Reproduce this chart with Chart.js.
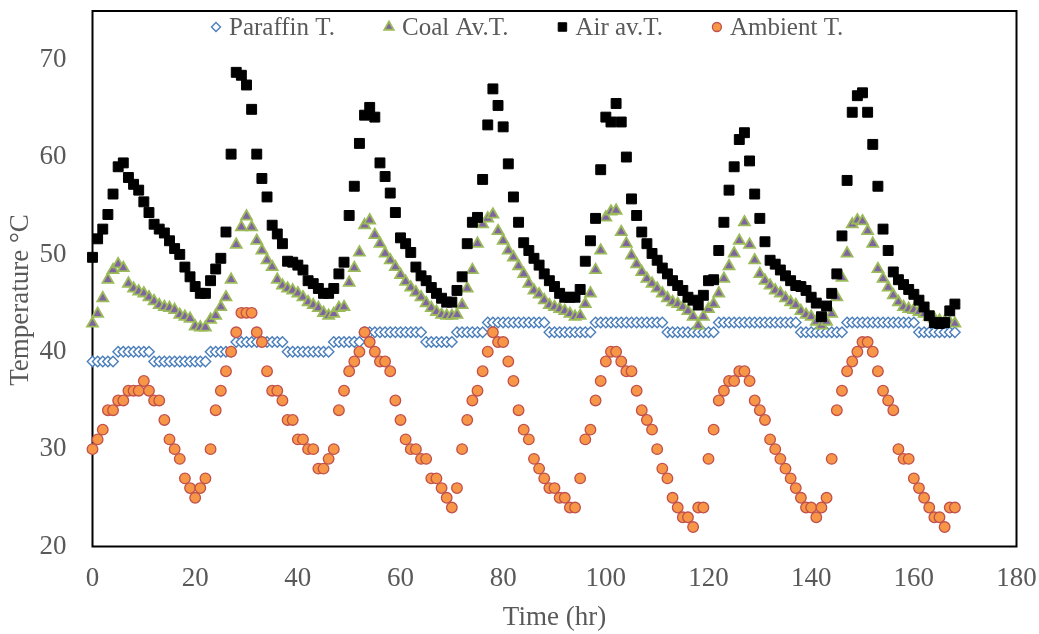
<!DOCTYPE html>
<html>
<head>
<meta charset="utf-8">
<script src="https://cdn.jsdelivr.net/npm/chart.js@4.4.1/dist/chart.umd.min.js"></script>
<style>
  html, body { margin: 0; padding: 0; background: #fff; overflow: hidden; }
  canvas { display: block; }
</style>
</head>
<body>
<canvas id="tempChart" width="1039" height="634"></canvas>
<script>
"use strict";

// hourly readings, 0..168 h
const hours = [
    0, 1, 2, 3, 4, 5, 6, 7, 8, 9, 10, 11, 12, 13, 14, 15, 16, 17, 18, 19,
    20, 21, 22, 23, 24, 25, 26, 27, 28, 29, 30, 31, 32, 33, 34, 35, 36, 37, 38, 39,
    40, 41, 42, 43, 44, 45, 46, 47, 48, 49, 50, 51, 52, 53, 54, 55, 56, 57, 58, 59,
    60, 61, 62, 63, 64, 65, 66, 67, 68, 69, 70, 71, 72, 73, 74, 75, 76, 77, 78, 79,
    80, 81, 82, 83, 84, 85, 86, 87, 88, 89, 90, 91, 92, 93, 94, 95, 96, 97, 98, 99,
    100, 101, 102, 103, 104, 105, 106, 107, 108, 109, 110, 111, 112, 113, 114, 115, 116, 117, 118, 119,
    120, 121, 122, 123, 124, 125, 126, 127, 128, 129, 130, 131, 132, 133, 134, 135, 136, 137, 138, 139,
    140, 141, 142, 143, 144, 145, 146, 147, 148, 149, 150, 151, 152, 153, 154, 155, 156, 157, 158, 159,
    160, 161, 162, 163, 164, 165, 166, 167, 168
];

const paraffinT = [
    39, 39, 39, 39, 39, 40, 40, 40, 40, 40, 40, 40, 39, 39, 39, 39, 39, 39, 39, 39,
    39, 39, 39, 40, 40, 40, 40, 40, 41, 41, 41, 41, 41, 41, 41, 41, 41, 41, 40, 40,
    40, 40, 40, 40, 40, 40, 40, 41, 41, 41, 41, 41, 41, 42, 42, 42, 42, 42, 42, 42,
    42, 42, 42, 42, 42, 41, 41, 41, 41, 41, 41, 42, 42, 42, 42, 42, 42, 43, 43, 43,
    43, 43, 43, 43, 43, 43, 43, 43, 43, 42, 42, 42, 42, 42, 42, 42, 42, 42, 43, 43,
    43, 43, 43, 43, 43, 43, 43, 43, 43, 43, 43, 43, 42, 42, 42, 42, 42, 42, 42, 42,
    42, 42, 43, 43, 43, 43, 43, 43, 43, 43, 43, 43, 43, 43, 43, 43, 43, 43, 42, 42,
    42, 42, 42, 42, 42, 42, 42, 43, 43, 43, 43, 43, 43, 43, 43, 43, 43, 43, 43, 43,
    43, 42, 42, 42, 42, 42, 42, 42, 42
];

const coalAvT = [
    42.9, 43.9, 45.5, 47.4, 48.4, 49.0, 48.6, 47.0, 46.5, 46.2,
    46.0, 45.6, 45.2, 44.8, 44.6, 44.5, 44.3, 43.8, 43.6, 43.4,
    42.6, 42.5, 42.5, 43.3, 43.7, 44.6, 45.6, 47.4, 51.0, 52.8,
    53.9, 52.8, 51.4, 50.4, 49.4, 48.7, 47.4, 46.8, 46.5, 46.3,
    46.0, 45.6, 45.1, 44.8, 44.5, 44.0, 43.7, 43.9, 44.5, 44.6,
    47.1, 48.6, 50.2, 53.0, 53.5, 52.0, 51.1, 50.1, 49.4, 48.7,
    47.9, 47.2, 46.6, 46.1, 45.6, 45.0, 44.5, 44.1, 43.8, 43.7,
    43.7, 43.8, 44.8, 46.5, 48.4, 51.1, 53.1, 53.7, 54.1, 52.4,
    51.4, 50.4, 49.7, 48.8, 48.0, 47.0, 46.3, 45.9, 45.3, 44.8,
    44.6, 44.4, 44.2, 43.9, 43.6, 43.7, 44.9, 46.0, 48.4, 50.4,
    53.8, 54.4, 54.5, 52.3, 51.1, 49.9, 49.0, 48.2, 47.5, 47.0,
    46.5, 46.0, 45.5, 45.1, 44.9, 44.6, 44.2, 43.6, 42.7, 43.6,
    44.4, 44.9, 46.0, 47.5, 48.8, 50.1, 51.4, 53.3, 51.0, 49.4,
    48.0, 47.3, 46.8, 46.3, 46.0, 45.5, 45.1, 44.8, 44.2, 43.8,
    43.6, 43.1, 42.7, 43.1, 43.9, 45.6, 47.6, 50.1, 53.1, 53.5,
    53.4, 52.4, 51.1, 48.5, 47.5, 46.6, 45.8, 45.1, 44.6, 44.4,
    44.3, 44.1, 43.9, 43.6, 43.4, 43.2, 43.1, 43.0, 42.9
];

const airAvT = [
    49.7, 51.6, 52.6, 54.1, 56.2, 59.0, 59.4, 57.9, 57.2, 56.6,
    55.4, 54.3, 53.1, 52.6, 52.2, 51.4, 50.6, 50.0, 48.7, 47.7,
    46.7, 46.0, 46.0, 47.3, 48.5, 49.6, 52.3, 60.3, 68.7, 68.4,
    67.4, 64.9, 60.3, 57.8, 55.9, 53.0, 52.1, 51.1, 49.3, 49.2,
    48.9, 48.4, 47.3, 47.0, 46.5, 46.0, 46.0, 46.5, 48.0, 49.2,
    54.0, 57.0, 61.4, 64.3, 65.1, 64.1, 59.4, 58.0, 56.3, 54.3,
    51.7, 51.1, 50.2, 48.7, 47.8, 47.3, 46.6, 46.0, 45.5, 45.1,
    45.1, 46.3, 47.7, 51.1, 53.3, 53.8, 57.7, 63.3, 67.0, 65.3,
    63.1, 59.3, 55.9, 53.3, 51.2, 50.4, 49.6, 48.9, 48.0, 47.3,
    46.7, 46.0, 45.6, 45.6, 45.6, 46.4, 49.3, 51.4, 53.7, 58.7,
    64.1, 63.6, 65.5, 63.6, 60.0, 55.7, 54.0, 52.3, 51.1, 50.1,
    49.4, 48.6, 48.0, 47.3, 46.8, 46.3, 45.6, 45.3, 44.8, 45.8,
    47.3, 47.4, 50.4, 53.3, 56.6, 59.0, 61.8, 62.5, 59.6, 56.2,
    53.7, 51.3, 49.4, 49.0, 48.4, 47.8, 47.3, 46.8, 46.7, 46.3,
    45.6, 45.0, 43.6, 44.7, 46.0, 48.0, 51.9, 57.6, 64.6, 66.3,
    66.6, 64.6, 61.3, 57.0, 52.6, 50.4, 48.2, 47.4, 46.9, 46.4,
    45.9, 45.3, 44.6, 43.7, 43.0, 42.9, 43.0, 44.2, 44.9
];

const ambientT = [
    30, 31, 32, 34, 34, 35, 35, 36, 36, 36,
    37, 36, 35, 35, 33, 31, 30, 29, 27, 26,
    25, 26, 27, 30, 34, 36, 38, 40, 42, 44,
    44, 44, 42, 41, 38, 36, 36, 35, 33, 33,
    31, 31, 30, 30, 28, 28, 29, 30, 34, 36,
    38, 39, 40, 42, 41, 40, 39, 39, 38, 35,
    33, 31, 30, 30, 29, 29, 27, 27, 26, 25,
    24, 26, 30, 33, 35, 36, 38, 40, 42, 41,
    41, 39, 37, 34, 32, 31, 29, 28, 27, 26,
    26, 25, 25, 24, 24, 27, 31, 32, 35, 37,
    39, 40, 40, 39, 38, 38, 36, 34, 33, 32,
    30, 28, 27, 25, 24, 23, 23, 22, 24, 24,
    29, 32, 35, 36, 37, 37, 38, 38, 37, 35,
    34, 33, 31, 30, 29, 28, 27, 26, 25, 24,
    24, 23, 24, 25, 29, 34, 36, 38, 39, 40,
    41, 41, 40, 38, 36, 35, 34, 30, 29, 29,
    27, 26, 25, 24, 23, 23, 22, 24, 24
];

const xTicks = [0, 20, 40, 60, 80, 100, 120, 140, 160, 180];
const yTicks = [20, 30, 40, 50, 60, 70];

const GREY = "#595959";
const FONT = "'Liberation Serif', 'Times New Roman', serif";

const toPoints = values => hours.map((h, i) => ({ x: h, y: values[i] }));

// plot frame, legend inside the top of the plot and the y title
const decorations = {
    id: "decorations",
    beforeDatasetsDraw(chart) {
        const { ctx, chartArea: a } = chart;
        ctx.save();
        ctx.strokeStyle = "#000";
        ctx.lineWidth = 2;
        ctx.strokeRect(a.left, a.top, a.right - a.left, a.bottom - a.top);
        ctx.restore();
    },
    afterDraw(chart) {
        const ctx = chart.ctx;

        // y title sits a little below the middle of the axis, as in the original
        ctx.save();
        ctx.translate(21, 300);
        ctx.rotate(-Math.PI / 2);
        ctx.font = "27px " + FONT;
        ctx.fillStyle = GREY;
        ctx.textAlign = "center";
        ctx.textBaseline = "middle";
        ctx.fillText("Temperature °C", 0, 0);
        ctx.restore();

        const drawPoint = Chart.helpers && Chart.helpers.drawPoint;
        ctx.save();
        ctx.font = "25px " + FONT;
        ctx.textBaseline = "alphabetic";
        let x = 216;
        chart.data.datasets.forEach(ds => {
            ctx.fillStyle = ds.backgroundColor;
            ctx.strokeStyle = ds.borderColor;
            ctx.lineWidth = ds.borderWidth;
            if (drawPoint) {
                drawPoint(ctx, { pointStyle: ds.pointStyle, radius: ds.legendRadius, borderWidth: ds.borderWidth, rotation: 0 }, x, 27);
            }
            ctx.fillStyle = GREY;
            ctx.fillText(ds.label, x + 13, 35);
            x += 13 + ctx.measureText(ds.label).width + 54;
        });
        ctx.restore();
    }
};

new Chart(document.getElementById("tempChart"), {
    type: "scatter",
    data: {
        datasets: [{
            label: "Paraffin T.",
            data: toPoints(paraffinT),
            pointStyle: "rectRot",
            radius: 5.2,
            legendRadius: 4.5,
            backgroundColor: "#ffffff",
            borderColor: "#4a7ebb",
            borderWidth: 1.4,
            order: 4,
            clip: false
        }, {
            label: "Coal Av.T.",
            data: toPoints(coalAvT),
            pointStyle: "triangle",
            radius: 6.3,
            legendRadius: 5.5,
            backgroundColor: "#8064a2",
            borderColor: "#9bbb59",
            borderWidth: 1.8,
            order: 3,
            clip: false
        }, {
            label: "Air av.T.",
            data: toPoints(airAvT),
            pointStyle: "rect",
            radius: 7,
            legendRadius: 6,
            backgroundColor: "#000000",
            borderColor: "#000000",
            borderWidth: 1,
            order: 2,
            clip: false
        }, {
            label: "Ambient T.",
            data: toPoints(ambientT),
            pointStyle: "circle",
            radius: 5.3,
            legendRadius: 4.5,
            backgroundColor: "#f79646",
            borderColor: "#c0504d",
            borderWidth: 1.3,
            order: 1,
            clip: false
        }]
    },
    options: {
        responsive: false,
        devicePixelRatio: 1,
        animation: false,
        layout: { padding: { left: 0, right: 22.5, top: 11, bottom: 0 } },
        plugins: {
            legend: { display: false },
            tooltip: { enabled: false }
        },
        scales: {
            x: {
                type: "linear",
                min: 0,
                max: 180,
                afterBuildTicks: s => { s.ticks = xTicks.map(v => ({ value: v })); },
                afterFit: s => { s.height = 87.5; s.paddingLeft = 0; s.paddingRight = 0; },
                grid: { display: false, drawTicks: false },
                border: { display: false },
                ticks: { padding: 16, color: GREY, font: { family: FONT, size: 27 } },
                title: {
                    display: true,
                    text: "Time (hr)",
                    color: GREY,
                    font: { family: FONT, size: 27 },
                    padding: { top: 0, bottom: 0 }
                }
            },
            y: {
                min: 20,
                max: 75,
                afterBuildTicks: s => { s.ticks = yTicks.map(v => ({ value: v })); },
                afterFit: s => { s.width = 92.5; s.paddingTop = 0; s.paddingBottom = 0; },
                grid: { display: false, drawTicks: false },
                border: { display: false },
                ticks: { padding: 26, color: GREY, font: { family: FONT, size: 27 } }
            }
        }
    },
    plugins: [decorations]
});
</script>
</body>
</html>
